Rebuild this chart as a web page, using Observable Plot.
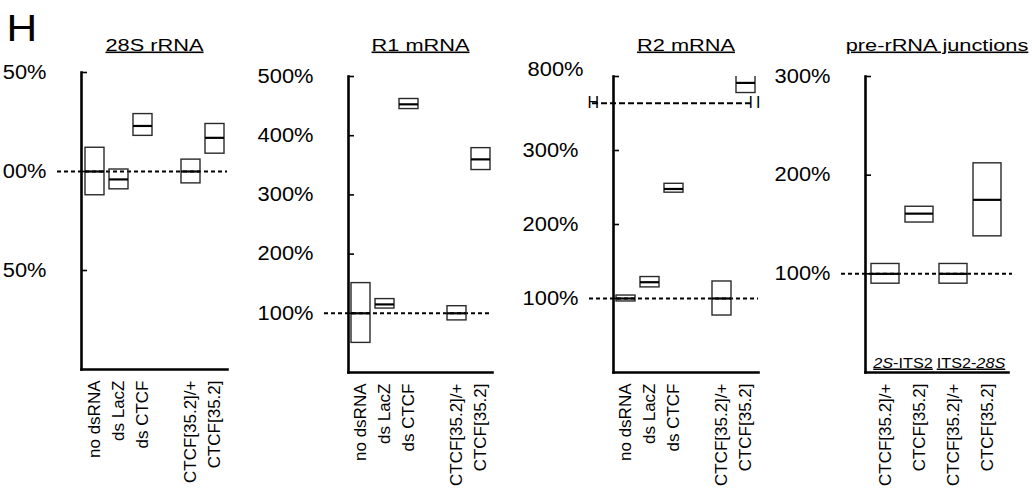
<!DOCTYPE html>
<html><head><meta charset="utf-8">
<script src="https://cdn.jsdelivr.net/npm/d3@7"></script>
<script src="https://cdn.jsdelivr.net/npm/@observablehq/plot@0.6"></script>
<style>
body{margin:0;background:#fff;}
#chart{position:relative;width:1032px;height:488px;overflow:hidden;background:#fff;}
#chart > svg{position:absolute;top:0;}
</style></head><body><div id="chart"></div>
<script>
// ---------- data ----------
const conditions = ["no dsRNA", "ds LacZ", "ds CTCF", "CTCF[35.2]/+", "CTCF[35.2]"];
const spacerKey = " ";
const r28S_low  = [88, 91, 118, 94, 109];
const r28S_mid  = [100, 96, 123, 100, 117];
const r28S_high = [112, 101, 129, 106, 124];
const r1_low  = [50, 108, 445, 88, 342];
const r1_mid  = [100, 115, 453, 100, 360];
const r1_high = [151, 124, 462, 112, 379];
const r2_low  = [96, 115, 243, 77, 738];
const r2_mid  = [100, 122, 248, 100, 776];
const r2_high = [104, 129, 255, 123, 813];
const junctionKeys = ["j0", "j1", "j2", "j3"];
const junctionGenotypes = ["CTCF[35.2]/+", "CTCF[35.2]", "CTCF[35.2]/+", "CTCF[35.2]"];
const junctionGroupLabels = ["2S-ITS2", "ITS2-28S"];
const junctionGroupItalic = ["2S", "28S"];
const junctionGroupFirstKey = ["j0", "j2"];
const junction_low  = [90, 152, 90, 138];
const junction_mid  = [100, 161, 100, 175];
const junction_high = [110, 168, 110, 212];
const ticks28S = [50, 100, 150];
const tickLabels28S = ["50%", "00%", "50%"];   // as printed (cropped at the figure's left edge)
const ticksR1 = [100, 200, 300, 400, 500];
const ticksR2 = [100, 200, 300, 800];
const ticksJ = [100, 200, 300];
const panelTitles = ["28S rRNA", "R1 mRNA", "R2 mRNA", "pre-rRNA junctions"];
const figureLetter = "H";

// broken axis for R2: values above the break are compressed
const r2Break = 364, r2UpperStart = 700, r2UpperScale = 0.36;
const r2pos = v => v <= r2Break ? v : r2Break + (v - r2UpperStart) * r2UpperScale;

// ---------- helpers ----------
const FONT = '"Liberation Sans", Arial, Helvetica, sans-serif';
const container = document.getElementById("chart");

function rowsFrom(keys, low, mid, high, f = v => v) {
  return keys.map((k, i) => ({key: k, low: f(low[i]), mid: f(mid[i]), high: f(high[i])}));
}
function textsWith(svg, strings) {
  return [...svg.querySelectorAll("text")].filter(t => strings.includes(t.textContent));
}
function stretchEls(els, factor) {
  els.forEach(t => {
    const len = t.getComputedTextLength();
    t.setAttribute("textLength", (len * factor).toFixed(1));
    t.setAttribute("lengthAdjust", "spacingAndGlyphs");
  });
}

function panel(cfg) {
  const {left, width, marginLeft, marginRight, marginTop, marginBottom,
    xDomain, xTicks, xLabel, rows, yDomain, yTicks, yLabel, title,
    pad = [0.22, 0.1], refInsetRight = 0, clipBoxes = false, extra = []} = cfg;
  const innerW = width - marginLeft - marginRight;
  const svg = Plot.plot({
    width, height: 488, marginLeft, marginRight, marginTop, marginBottom,
    style: {fontFamily: FONT, background: "transparent", color: "black", overflow: "hidden"},
    x: {domain: xDomain, paddingInner: pad[0], paddingOuter: pad[1], align: 0.5, label: null},
    y: {domain: yDomain, label: null},
    marks: [
      Plot.ruleY([100], {strokeDasharray: "4,3", strokeWidth: 2, insetLeft: -24, insetRight: refInsetRight}),
      Plot.barY(rows, {x: "key", y1: "low", y2: "high", fill: "none", stroke: "#2a2a2a", strokeWidth: 1.4, clip: clipBoxes}),
      Plot.tickY(rows, {x: "key", y: "mid", stroke: "black", strokeWidth: 2.2, clip: clipBoxes}),
      Plot.tickY(yTicks, {y: d => d, insetRight: innerW - 6, strokeWidth: 1.6}),
      Plot.frame({anchor: "left", strokeWidth: 2.6}),
      Plot.frame({anchor: "bottom", strokeWidth: 2.6}),
      Plot.axisY(yTicks, {tickSize: 0, tickPadding: 35, fontSize: 19.5, tickFormat: yLabel, label: null}),
      Plot.axisX(xTicks, {tickSize: 0, tickPadding: 11, tickRotate: -90, fontSize: 17, tickFormat: xLabel, label: null}),
      Plot.text([title], {frameAnchor: "top", lineAnchor: "bottom", dy: 50 - marginTop, fontSize: 16}),
      ...extra
    ]
  });
  svg.style.left = left + "px";
  container.appendChild(svg);
  return svg;
}

const pctLabel = d => d + "%";
const spacedDomain = [conditions[0], conditions[1], conditions[2], spacerKey, conditions[3], conditions[4]];

// ---------- panel 1: 28S rRNA ----------
const p1 = panel({
  left: 0, width: 240, marginLeft: 81, marginRight: 13, marginTop: 72, marginBottom: 119,
  xDomain: spacedDomain, xTicks: conditions, xLabel: d => d,
  rows: rowsFrom(conditions, r28S_low, r28S_mid, r28S_high),
  yDomain: [0, 150], yTicks: ticks28S, yLabel: d => tickLabels28S[ticks28S.indexOf(d)], title: panelTitles[0],
  pad: [0.22, 0.12],
  extra: [
    Plot.text([figureLetter], {frameAnchor: "top-left", textAnchor: "start", lineAnchor: "bottom",
      dx: -75, dy: 40 - 72, fontSize: 37})
  ]
});

// ---------- panel 2: R1 mRNA ----------
const p2 = panel({
  left: 240, width: 260, marginLeft: 108, marginRight: 8, marginTop: 76, marginBottom: 116,
  xDomain: spacedDomain, xTicks: conditions, xLabel: d => d,
  rows: rowsFrom(conditions, r1_low, r1_mid, r1_high),
  yDomain: [0, 500], yTicks: ticksR1, yLabel: pctLabel, title: panelTitles[1],
  pad: [0.22, 0.1]
});

// ---------- panel 3: R2 mRNA (broken axis) ----------
const r2TickPos = ticksR2.map(r2pos);
const r2TickLabel = new Map(ticksR2.map(v => [r2pos(v), v + "%"]));
const p3 = panel({
  left: 500, width: 265, marginLeft: 113, marginRight: 7, marginTop: 76, marginBottom: 116,
  xDomain: spacedDomain, xTicks: conditions, xLabel: d => d,
  rows: rowsFrom(conditions, r2_low, r2_mid, r2_high, r2pos),
  yDomain: [0, r2pos(800)], yTicks: r2TickPos, yLabel: p => r2TickLabel.get(p), title: panelTitles[2],
  pad: [0.22, 0.08], clipBoxes: true,
  extra: [
    Plot.ruleY([r2Break], {strokeDasharray: "6,3", strokeWidth: 2, insetLeft: -21, insetRight: 5}),
    Plot.text([r2Break], {y: d => d, frameAnchor: "left", dx: -26, fontSize: 16, text: () => "H"}),
    Plot.text([r2Break], {y: d => d, frameAnchor: "right", dx: 2, fontSize: 16, text: () => "I\u2009I"})
  ]
});
// the printed "800%" sits a little higher and further right than the other labels
textsWith(p3, ["800%"]).forEach(t => {
  const tr = t.getAttribute("transform");
  t.setAttribute("transform", (tr ? tr + " " : "") + "translate(5,-7)");
});

// ---------- panel 4: pre-rRNA junctions ----------
const p4Width = 267, p4Left = 100, p4Right = 24;
const p4Pad = [0.17, 0.13];
const p4Step = (p4Width - p4Left - p4Right) / (junctionKeys.length - p4Pad[0] + 2 * p4Pad[1]);
const p4 = panel({
  left: 765, width: p4Width, marginLeft: p4Left, marginRight: p4Right, marginTop: 76, marginBottom: 116,
  xDomain: junctionKeys, xTicks: junctionKeys, xLabel: k => junctionGenotypes[junctionKeys.indexOf(k)],
  rows: rowsFrom(junctionKeys, junction_low, junction_mid, junction_high),
  yDomain: [0, 300], yTicks: ticksJ, yLabel: pctLabel, title: panelTitles[3],
  pad: p4Pad, refInsetRight: -4,
  extra: [
    Plot.text(junctionGroupLabels, {x: (d, i) => junctionGroupFirstKey[i], frameAnchor: "bottom",
      lineAnchor: "bottom", dx: p4Step / 2, dy: -5, fontSize: 15})
  ]
});

// italic parts of junction names, underlined
const junctionTexts = textsWith(p4, junctionGroupLabels);
junctionTexts.forEach(t => {
  const full = t.textContent, it = junctionGroupItalic[junctionGroupLabels.indexOf(full)];
  const at = full.indexOf(it);
  t.textContent = "";
  [[full.slice(0, at), false], [it, true], [full.slice(at + it.length), false]].forEach(([s, ital]) => {
    if (!s) return;
    const ts = document.createElementNS("http://www.w3.org/2000/svg", "tspan");
    ts.textContent = s;
    if (ital) ts.setAttribute("font-style", "italic");
    t.appendChild(ts);
  });
  t.style.textDecoration = "underline";
});
stretchEls(junctionTexts, 1.08);

// underline titles, widen horizontal type to match the figure
for (const svg of [p1, p2, p3, p4]) {
  const titles = textsWith(svg, panelTitles);
  titles.forEach(t => t.style.textDecoration = "underline");
  stretchEls(titles, 1.36);
  stretchEls([...svg.querySelectorAll('g[aria-label="y-axis tick label"] text')], 1.12);
}
stretchEls(textsWith(p1, [figureLetter]), 1.15);
</script></body></html>
